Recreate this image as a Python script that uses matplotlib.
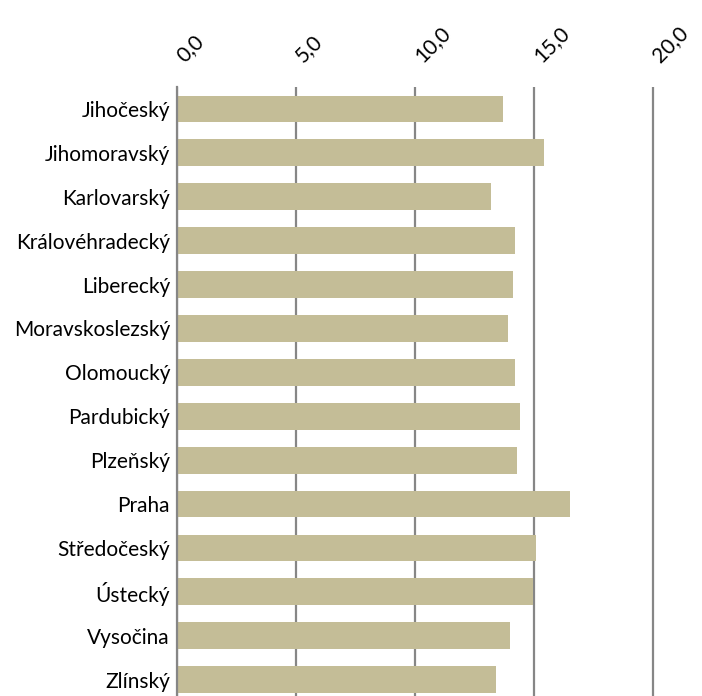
import matplotlib.pyplot as plt
from matplotlib.ticker import FuncFormatter
from matplotlib.transforms import ScaledTranslation

regions = ['Jihočeský', 'Jihomoravský', 'Karlovarský', 'Královéhradecký',
           'Liberecký', 'Moravskoslezský', 'Olomoucký', 'Pardubický',
           'Plzeňský', 'Praha', 'Středočeský', 'Ústecký', 'Vysočina', 'Zlínský']
values = [13.7, 15.4, 13.2, 14.2, 14.1, 13.9, 14.2, 14.4, 14.3, 16.5,
          15.1, 14.95, 14.0, 13.4]

plt.rcParams['font.family'] = ['Lato', 'DejaVu Sans']

fig = plt.figure(figsize=(7.02, 6.96), dpi=100)
# 23.8 px per unit, plot extended a little past 20 so the last gridline isn't clipped
ax = fig.add_axes([177 / 702, 0, (653 + 0.2 * 23.8 - 177) / 702, (696 - 87) / 696])

ax.barh(range(len(regions)), values, height=0.61, color='#C4BD97', zorder=2)

ax.set_xlim(0, 20.2)
ax.set_ylim(-0.5 + (696 - 87) / 43.9, -0.5)
ax.set_xticks([0, 5, 10, 15, 20])
ax.xaxis.set_major_formatter(FuncFormatter(lambda v, p: f'{v:.1f}'.replace('.', ',')))
ax.xaxis.tick_top()
ax.grid(axis='x', color='#868686', linewidth=1.6, zorder=1)
ax.set_yticks(range(len(regions)))
ax.set_yticklabels(regions)

for s in ['top', 'right', 'bottom']:
    ax.spines[s].set_visible(False)
ax.spines['left'].set_color('#868686')
ax.spines['left'].set_linewidth(1.6)

ax.tick_params(axis='y', length=0, pad=5, labelsize=15)
ax.tick_params(axis='x', length=0, pad=17, labelsize=15)
shift = ScaledTranslation(7 / 100, 0, fig.dpi_scale_trans)
for lbl in ax.get_xticklabels():
    lbl.set_rotation(45)
    lbl.set_rotation_mode('anchor')
    lbl.set_ha('left')
    lbl.set_va('baseline')
    lbl.set_transform(lbl.get_transform() + shift)

fig.savefig('out.png', dpi=100)
